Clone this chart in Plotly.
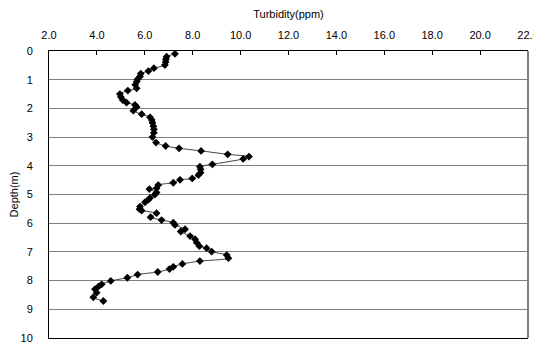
import plotly.graph_objects as go

# Turbidity profile
turbidity = [7.26, 6.91, 6.88, 6.87, 6.84, 6.38, 6.15, 5.83, 5.80, 5.70,
             5.66, 5.60, 5.66, 5.29, 4.96, 5.00, 5.08, 5.24, 5.59, 5.66,
             5.52, 5.87, 6.22, 6.29, 6.32, 6.36, 6.38, 6.38, 6.32, 6.47,
             6.87, 7.43, 8.35, 9.46, 10.35, 10.11, 8.82, 8.30, 8.33, 8.33,
             8.24, 7.98, 7.47, 7.19, 6.56, 6.49, 6.19, 6.49, 6.42, 6.22,
             6.15, 6.01, 5.80, 5.78, 5.87, 6.49, 6.24, 6.70, 7.19, 7.26,
             7.68, 7.50, 7.89, 8.10, 8.17, 8.28, 8.58, 8.79, 9.42, 9.49,
             8.30, 7.57, 7.19, 7.03, 6.54, 5.70, 5.27, 4.58, 4.20, 4.06,
             3.92, 3.99, 3.85, 4.27]
depth = [0.10, 0.20, 0.29, 0.38, 0.49, 0.60, 0.70, 0.79, 0.89, 0.98,
         1.07, 1.18, 1.30, 1.38, 1.50, 1.60, 1.71, 1.80, 1.88, 1.95,
         2.08, 2.20, 2.31, 2.40, 2.50, 2.62, 2.73, 2.85, 3.00, 3.19,
         3.31, 3.39, 3.48, 3.60, 3.68, 3.76, 3.95, 4.03, 4.12, 4.24,
         4.32, 4.44, 4.49, 4.59, 4.67, 4.78, 4.81, 4.93, 5.00, 5.12,
         5.18, 5.27, 5.42, 5.51, 5.56, 5.65, 5.79, 5.89, 5.98, 6.06,
         6.21, 6.29, 6.45, 6.56, 6.68, 6.80, 6.87, 6.99, 7.11, 7.22,
         7.32, 7.42, 7.52, 7.60, 7.70, 7.79, 7.90, 8.01, 8.13, 8.21,
         8.30, 8.42, 8.58, 8.71]

font_family = "Liberation Sans, Arial, sans-serif"

fig = go.Figure()
fig.add_trace(go.Scatter(
    x=turbidity, y=depth, mode="lines+markers",
    line=dict(color="#404040", width=1, shape="spline", smoothing=0.6),
    marker=dict(symbol="diamond", size=6, color="black"),
    showlegend=False,
))

# the page puts the figure 8px in from the top-left corner
fig.update_layout(
    width=533, height=341,
    margin=dict(l=41, r=13, t=43, b=11),
    paper_bgcolor="white", plot_bgcolor="white",
    font=dict(family=font_family, size=11, color="black"),
    xaxis=dict(
        side="top", range=[2, 22], dtick=2, tick0=2, tickformat=".1f",
        ticks="inside", ticklen=4, tickcolor="black",
        showline=True, linecolor="black", linewidth=1, mirror=True,
        showgrid=False, zeroline=False, automargin=False,
        title=dict(text="Turbidity(ppm)", font=dict(size=11), standoff=8),
        tickfont=dict(size=11), ticklabelstandoff=7,
    ),
    yaxis=dict(
        range=[10, 0], dtick=1, tick0=0,
        showline=True, linecolor="black", linewidth=1,
        showgrid=True, gridcolor="#808080", gridwidth=1,
        zeroline=False, ticks="", ticklabelstandoff=13, automargin=False,
        title=dict(text="Depth(m)", font=dict(size=11), standoff=9),
        tickfont=dict(size=11),
    ),
)

# gray right border of the plot frame
fig.add_shape(type="line", xref="paper", yref="paper", x0=1, x1=1, y0=0, y1=1,
              line=dict(color="#808080", width=2))

fig.write_html("out.html")
